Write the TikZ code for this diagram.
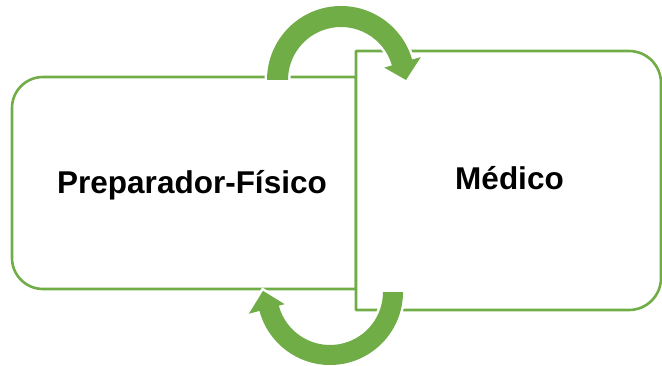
\documentclass[tikz,border=0pt]{standalone}
\usepackage{fontspec}
\setmainfont{Liberation Sans}
\usetikzlibrary{calc}
\definecolor{leaf}{HTML}{70AD47}
\begin{document}
\begin{tikzpicture}[x=1pt,y=1pt,
  boxline/.style={draw=leaf, line width=2.6pt, line join=round},
  area/.style={inner sep=0pt, outer sep=0pt},
  boxtext/.style={font=\fontsize{31.5}{38}\selectfont\bfseries, anchor=base, inner sep=0pt},
  loopband/.style={fill=leaf, preaction={draw=white, line width=5pt}}]
\useasboundingbox (0,0) rectangle (662,365);

% placeholders for the two boxes
\node[area, minimum width=344pt, minimum height=212pt] (prepbox) at (184,182) {};
\node[area, minimum width=305pt, minimum height=259pt] (medbox) at (508.5,184.5) {};

% left box: rounded on its left side only
\draw[boxline] (prepbox.north east)
  -- ([xshift=31pt]prepbox.north west) arc[start angle=90, end angle=180, radius=31pt]
  -- ([yshift=31pt]prepbox.south west) arc[start angle=180, end angle=270, radius=31pt]
  -- (prepbox.south east) -- cycle;

% right box: rounded on its right side only, lying over the left box
\draw[boxline, fill=white] (medbox.north west)
  -- ([xshift=-32pt]medbox.north east) arc[start angle=90, end angle=0, radius=32pt]
  -- ([yshift=32pt]medbox.south east) arc[start angle=0, end angle=-90, radius=32pt]
  -- (medbox.south west) -- cycle;

\node[boxtext] (prep) at (192,172) {Preparador-Físico};
\node[boxtext] (med) at (509.5,176) {Médico};

% circular arrow over the top, pointing into the right box
\coordinate (topc) at (341,285);
\fill[loopband] ($(topc)+(180:74pt)$) arc[start angle=180, end angle=16, radius=74pt]
  -- ($(topc)+(16:83pt)$) -- ($(topc)+(0:65pt)$) -- ($(topc)+(16:45pt)$)
  -- ($(topc)+(16:53pt)$) arc[start angle=16, end angle=180, radius=53pt] -- cycle;

% circular arrow underneath, pointing back into the left box
\coordinate (botc) at (330,73);
\fill[loopband] ($(botc)+(0:73pt)$) arc[start angle=0, end angle=-165, radius=73pt]
  -- ($(botc)+(-165:84pt)$) -- ($(botc)+(179:67pt)$) -- ($(botc)+(-165:47pt)$)
  -- ($(botc)+(-165:53pt)$) arc[start angle=-165, end angle=0, radius=53pt] -- cycle;
\end{tikzpicture}
\end{document}
